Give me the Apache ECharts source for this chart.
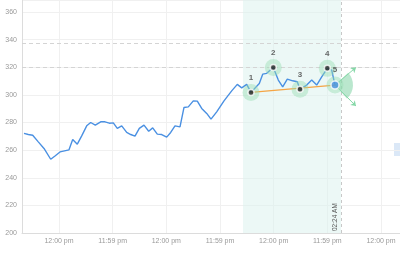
<!DOCTYPE html>
<html><head><meta charset="utf-8">
<script src="https://cdn.jsdelivr.net/npm/echarts@6/dist/echarts.min.js"></script>
<style>html,body{margin:0;padding:0;background:#fff}#c{width:400px;height:253px}</style>
</head><body><div id="c"></div>
<script>
// x: time offset units, y: price
const priceT = [2,6.3,10.7,16.3,22,28.7,33,38,47,50.7,55.3,59.7,64.7,68.7,73.3,78.7,83,87.3,91.3,95.3,99.7,104.7,108.7,113,117.3,122,126.7,130.7,135.3,139.7,144.7,148.7,153,158,162,166.3,171.3,175.3,179.7,184.7,189,194.7,202,209.7,215.3,219.7,224.7,229,237.3,240.7,244.7,251.3,256.3,260.7,265.3,270.7,275.3,278,284.7,289.7,294.7,299.7,305.3,309.7,313];
const priceV = [272.1,271.3,270.8,266.0,261.2,253.4,255.8,258.7,260.2,267.7,264.3,270.3,277.6,280.0,278.1,280.5,280.5,279.5,279.7,275.7,277.6,272.8,271.3,270.1,275.7,278.1,273.7,276.1,271.6,271.3,269.4,272.8,277.6,276.8,290.9,291.3,295.7,295.5,290.2,286.6,282.4,287.7,295.7,302.9,307.6,305.1,307.6,301.8,308.3,315.0,315.6,319.9,310.7,305.8,311.4,310.2,309.5,304.0,307.1,310.7,307.1,313.1,319.2,317.9,307.1];
const patternNames = ['1','2','3','4','5'];
const patternT = [229,251.3,278,305.3,313];
const patternV = [301.8,319.9,304.0,319.2,307.1];
const fanEnds = [[334,319.9],[334,291.9]];
const tickPositions = [37,90.7,144.3,198,251.7,305.3,359];
const tickLabels = ['12:00 pm','11:59 pm','12:00 pm','11:59 pm','12:00 pm','11:59 pm','12:00 pm'];
const yTicks = [200,220,240,260,280,300,320,340,360];
const rangeStart = 221, rangeEnd = 319, rangeLabel = '02:24 AM';
const priceLines = [337.5, 320];

const chart = echarts.init(document.getElementById('c'));
const font = 'Liberation Sans, Arial, sans-serif';
const pricePts = priceT.map((t,i)=>[t,priceV[i]]);
const patPts = patternT.map((t,i)=>[t,patternV[i]]);
chart.setOption({
  animation:false,
  grid:{left:22,right:0,top:0,bottom:20},
  xAxis:{type:'value',min:0,max:378,
    axisLine:{show:true,lineStyle:{color:'#dcdcdc'}},
    axisTick:{show:false,customValues:tickPositions},
    splitLine:{show:true,lineStyle:{color:'#f0f0f0'}},
    axisLabel:{customValues:tickPositions,fontSize:7,color:'#999',fontFamily:font,margin:5,
      formatter:(v)=>{const i=tickPositions.indexOf(v);return i>=0?tickLabels[i]:'';}}
  },
  yAxis:{type:'value',min:200,max:368.7,interval:20,
    axisLine:{show:true,lineStyle:{color:'#dcdcdc'}},
    axisTick:{show:false},
    splitLine:{show:true,lineStyle:{color:'#f0f0f0'}},
    axisLabel:{fontSize:7,color:'#999',fontFamily:font,margin:5,showMaxLabel:false,
      formatter:(v)=>yTicks.indexOf(v)>=0?String(v):''}
  },
  series:[
    {type:'line',data:pricePts,symbol:'none',z:3,
      lineStyle:{color:'#4a90e2',width:1.4},
      markArea:{silent:true,itemStyle:{color:'rgba(220,242,238,0.55)'},data:[[{xAxis:rangeStart},{xAxis:rangeEnd}]]},
      markLine:{silent:true,symbol:'none',
        data:[
          ...priceLines.map(v=>({yAxis:v,lineStyle:{color:'#d4d4d4',type:[4,3],width:1},label:{show:false}})),
          {xAxis:rangeEnd,lineStyle:{color:'#c8c8c8',type:[3,3],width:1},
            label:{show:true,formatter:rangeLabel,position:'insideStartTop',fontSize:6.5,color:'#555',fontFamily:font,distance:2}}
        ]}
    },
    {type:'line',data:[patPts[0],patPts[4]],symbol:'none',z:4,lineStyle:{color:'#f5a545',width:1.2}},
    {type:'custom',z:5,data:[patPts[4]],
      renderItem:(params,api)=>{const c=api.coord([api.value(0),api.value(1)]);
        return {type:'sector',shape:{cx:c[0],cy:c[1],r:18,r0:0,startAngle:-0.75,endAngle:0.85,clockwise:true},
          style:{fill:'rgba(130,212,165,0.55)'}};}},
    {type:'lines',coordinateSystem:'cartesian2d',z:5,symbol:['none','arrow'],symbolSize:5,
      lineStyle:{color:'#86d8a8',width:1,opacity:1},
      data:fanEnds.map(e=>({coords:[patPts[4],e]}))},
    {type:'scatter',z:6,data:patPts,symbolSize:17,itemStyle:{color:'rgba(150,220,178,0.55)'},silent:true},
    {type:'scatter',z:7,symbolSize:6,
      data:patPts.map((p,i)=>({value:p,name:patternNames[i],
        symbolSize:i===4?8:6,
        itemStyle:{color:i===4?'#4a90e2':'#222',borderColor:'#fff',borderWidth:1.5}})),
      label:{show:true,position:'top',distance:7,formatter:(p)=>p.name,fontSize:8,fontWeight:'bold',color:'#444',fontFamily:font}}
  ],
  graphic:[{type:'rect',right:0,top:143,shape:{width:6,height:13},style:{fill:'#dbe8f7'}}]
});
</script></body></html>
